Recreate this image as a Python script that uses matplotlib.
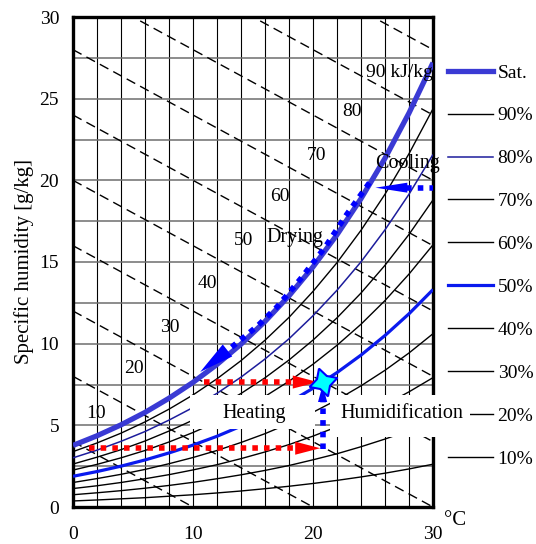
import numpy as np
import matplotlib
matplotlib.use('Agg')
import matplotlib.pyplot as plt
from matplotlib.patches import Rectangle
from matplotlib.lines import Line2D

plt.rcParams['font.family'] = ['Liberation Serif', 'DejaVu Serif']

# dry-bulb temperature [degC]
temp = [0, 2, 4, 6, 8, 10, 12, 14, 16, 18, 20, 22, 24, 26, 28, 30]

# specific humidity [g/kg] for each relative humidity curve
rh_curves = {
    'Sat.': [3.77, 4.36, 5.03, 5.79, 6.66, 7.63, 8.73, 9.97, 11.36, 12.93, 14.70, 16.67, 18.88, 21.35, 24.12, 27.20],
    '90%': [3.39, 3.92, 4.52, 5.21, 5.99, 6.86, 7.85, 8.96, 10.21, 11.61, 13.20, 14.96, 16.94, 19.15, 21.63, 24.38],
    '80%': [3.01, 3.48, 4.02, 4.62, 5.32, 6.09, 6.96, 7.95, 9.06, 10.30, 11.71, 13.27, 15.01, 16.97, 19.15, 21.58],
    '70%': [2.63, 3.05, 3.51, 4.04, 4.65, 5.32, 6.09, 6.95, 7.91, 9.00, 10.22, 11.58, 13.10, 14.80, 16.69, 18.80],
    '60%': [2.26, 2.61, 3.01, 3.46, 3.98, 4.56, 5.21, 5.94, 6.77, 7.70, 8.74, 9.90, 11.19, 12.64, 14.26, 16.05],
    '50%': [1.88, 2.17, 2.50, 2.88, 3.31, 3.79, 4.33, 4.95, 5.63, 6.40, 7.27, 8.23, 9.30, 10.50, 11.83, 13.31],
    '40%': [1.50, 1.74, 2.00, 2.30, 2.65, 3.03, 3.46, 3.95, 4.49, 5.11, 5.80, 6.56, 7.42, 8.37, 9.43, 10.61],
    '30%': [1.13, 1.30, 1.50, 1.73, 1.98, 2.27, 2.59, 2.96, 3.37, 3.82, 4.34, 4.91, 5.55, 6.26, 7.05, 7.92],
    '20%': [0.75, 0.87, 1.00, 1.15, 1.32, 1.51, 1.73, 1.97, 2.24, 2.54, 2.89, 3.26, 3.69, 4.16, 4.68, 5.26],
    '10%': [0.37, 0.43, 0.50, 0.57, 0.66, 0.75, 0.86, 0.98, 1.12, 1.27, 1.44, 1.63, 1.84, 2.07, 2.33, 2.62],
}
rh_styles = {
    'Sat.': dict(color='#3a3ad4', lw=3.8),
    '80%': dict(color='#1c1c9c', lw=1.1),
    '50%': dict(color='#0a1aee', lw=2.3),
}

# enthalpy lines [kJ/kg]: humidity at 0 degC and at 30 degC
enthalpy = [10, 20, 30, 40, 50, 60, 70, 80, 90, 100]
h_w_at0 = [4, 8, 12, 16, 20, 24, 28, 32, 36, 40]
h_w_at30 = [-8, -4, 0, 4, 8, 12, 16, 20, 24, 28]
h_labels = ['10', '20', '30', '40', '50', '60', '70', '80', '90 kJ/kg']
h_label_t = [1.9, 5.1, 8.1, 11.2, 14.2, 17.25, 20.25, 23.25, 24.4]
h_label_w = [5.75, 8.45, 11.0, 13.7, 16.3, 19.0, 21.55, 24.2, 26.6]

# process paths
heat_low_t = [1.3, 18.5]
heat_low_w = [3.6, 3.6]
heat_up_t = [10.9, 18.4]
heat_up_w = [7.65, 7.65]
humid_t = [20.8, 20.8]
humid_w = [3.55, 6.5]
cool_t = [30.2, 27.8]
cool_w = [19.55, 19.55]
dry_t = [24.7, 22.8, 21.0, 19.0, 17.0, 15.4, 13.75, 12.9]
dry_w = [19.85, 17.9, 15.9, 14.0, 12.25, 11.1, 10.1, 9.6]
state_t, state_w = 20.8, 7.65

fig = plt.figure(figsize=(5.36, 5.44), dpi=100)
ax = fig.add_axes([73 / 536, 37 / 544, 360 / 536, 490 / 544])
ax.set_xlim(0, 30)
ax.set_ylim(0, 30)

# grid
for x in np.arange(2, 30, 2):
    ax.axvline(x, color='k', lw=0.8, zorder=1)
for y in np.arange(2.5, 30, 2.5):
    ax.axhline(y, color='#6e6e6e', lw=1.1, zorder=1)

# enthalpy lines
for w0, w30 in zip(h_w_at0, h_w_at30):
    ax.plot([0, 30], [w0, w30], color='k', lw=1.0, dashes=(7, 4), zorder=2)
for lab, t, w in zip(h_labels, h_label_t, h_label_w):
    ha = 'left' if 'kJ' in lab else 'center'
    ax.text(t, w, lab, fontsize=14, ha=ha, va='center', zorder=4)

# relative humidity curves
handles = []
for name, vals in rh_curves.items():
    st = rh_styles.get(name, dict(color='k', lw=1.0))
    ax.plot(temp, vals, zorder=3, solid_capstyle='butt', **st)
    handles.append(Line2D([], [], **st))

leg = ax.legend(handles, list(rh_curves.keys()), loc='upper left',
                bbox_to_anchor=(448 / 536, 1 - 64 / 544), bbox_transform=fig.transFigure,
                frameon=False, fontsize=14, handlelength=2.3, handletextpad=0.25,
                labelspacing=1.3, borderpad=0, borderaxespad=0)
leg.set_zorder(5)

# white label boxes
ax.add_patch(Rectangle((9.75, 4.75), 10.45, 2.1, facecolor='white', edgecolor='none',
                       zorder=6, clip_on=False))
ax.add_patch(Rectangle((21.4, 4.3), 11.7, 2.55, facecolor='white', edgecolor='none',
                       zorder=6, clip_on=False))
ax.text(15.1, 5.75, 'Heating', fontsize=14.5, ha='center', va='center', zorder=7)
ax.text(27.4, 5.75, 'Humidification', fontsize=14.5, ha='center', va='center', zorder=7,
        clip_on=False)
ax.text(18.5, 16.5, 'Drying', fontsize=14.5, ha='center', va='center', zorder=4)
ax.text(27.9, 21.05, 'Cooling', fontsize=14.5, ha='center', va='center', zorder=4)

# dotted process lines
dot = dict(lw=4.0, dashes=(1, 1.1), solid_capstyle='butt', dash_capstyle='butt', zorder=8)
ax.plot(heat_low_t, heat_low_w, color='red', **dot)
ax.plot(heat_up_t, heat_up_w, color='red', **dot)
ax.plot(humid_t, humid_w, color='blue', **dot)
ax.plot(cool_t, cool_w, color='blue', **dot)
ax.plot(dry_t, dry_w, color='blue', **dot)


def head(tip, base, color, length, width):
    ax.annotate('', xy=tip, xytext=base, zorder=8,
                arrowprops=dict(arrowstyle=f'-|>,head_length={length},head_width={width}',
                                color=color, lw=0, shrinkA=0, shrinkB=0, mutation_scale=10))


head((20.6, heat_low_w[0]), (heat_low_t[1], heat_low_w[0]), 'red', 1.8, 0.47)
head((20.4, heat_up_w[0]), (heat_up_t[1], heat_up_w[0]), 'red', 1.8, 0.47)
head((20.8, 7.45), (20.8, humid_w[1]), 'blue', 1.2, 0.33)
head((25.2, 19.55), (cool_t[1], cool_w[1]), 'blue', 2.3, 0.36)
head((10.6, 8.27), (dry_t[-1], dry_w[-1]), 'blue', 2.5, 0.55)

ax.plot([state_t], [state_w], marker=(4, 1, 18), ms=21, mfc='#00ffff', mec='blue',
        mew=1.5, zorder=9)

# axes styling
ax.set_xticks([0, 10, 20, 30])
ax.set_yticks(range(0, 31, 5))
ax.tick_params(length=0, labelsize=14)
ax.tick_params(axis='x', pad=14)
ax.tick_params(axis='y', pad=10)
for sp in ax.spines.values():
    sp.set_linewidth(2.4)
ax.set_ylabel('Specific humidity [g/kg]', fontsize=15, labelpad=4)
ax.text(31.8, -0.8, '°C', fontsize=15, ha='center', va='center', clip_on=False)

plt.savefig('out.png', dpi=100)
